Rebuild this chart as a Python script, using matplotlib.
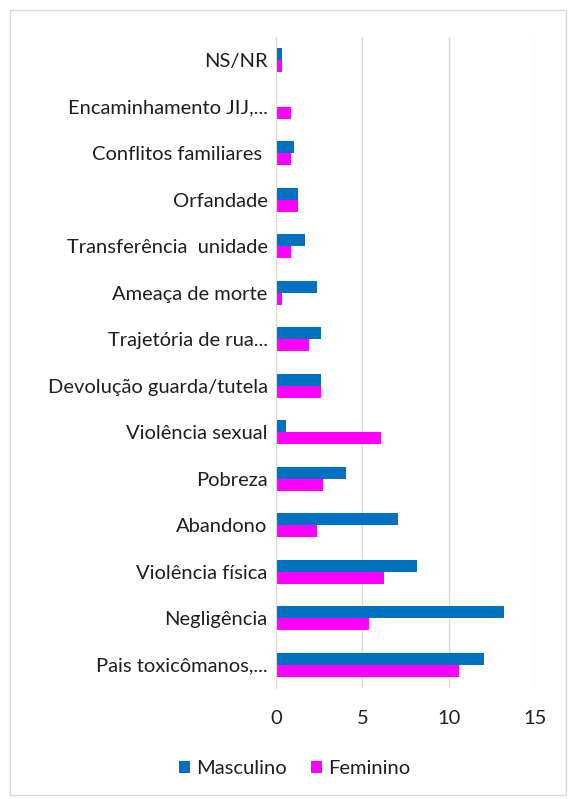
import matplotlib.pyplot as plt
import numpy as np
from matplotlib.patches import Rectangle

categorias = ["NS/NR", "Encaminhamento JIJ,...", "Conflitos familiares ", "Orfandade",
              "Transferência  unidade", "Ameaça de morte", "Trajetória de rua...",
              "Devolução guarda/tutela", "Violência sexual", "Pobreza", "Abandono",
              "Violência física", "Negligência", "Pais toxicômanos,..."]
masculino = [0.36, 0.0, 1.04, 1.25, 1.68, 2.37, 2.58, 2.58, 0.56, 4.05, 7.05, 8.17, 13.18, 12.06]
feminino = [0.36, 0.85, 0.85, 1.25, 0.85, 0.36, 1.89, 2.58, 6.07, 2.73, 2.39, 6.28, 5.38, 10.6]
xticks = [0, 5, 10, 15]

plt.rcParams['font.family'] = ['Lato', 'DejaVu Sans']

fig = plt.figure(figsize=(5.72, 7.99), dpi=100)
ax = fig.add_axes([276/572, 1-688/799, (535-276)/572, (688-37)/799])

y = np.arange(len(categorias))
h = 0.26
ax.barh(y - h/2, masculino, height=h, color="#0070C0", label="Masculino")
ax.barh(y + h/2, feminino, height=h, color="#FF00FF", label="Feminino")

ax.set_ylim(len(categorias) - 0.5, -0.5)
ax.set_xlim(0, 15)
ax.set_xticks(xticks)
ax.set_yticks(y)
ax.set_yticklabels(categorias, fontsize=14.5, color="#1F1F1F")
ax.tick_params(axis='x', labelsize=14.5, colors="#1F1F1F", length=0, pad=16)
ax.tick_params(axis='y', length=0, pad=6)
ax.xaxis.grid(True, color="#D9D9D9", linewidth=1)
ax.set_axisbelow(True)
for s in ["top", "right", "bottom"]:
    ax.spines[s].set_visible(False)
ax.spines["left"].set_color("#D9D9D9")

fig.legend(loc="center", bbox_to_anchor=(295/572, 1-769/799), ncol=2, frameon=False,
           fontsize=14.5, handlelength=0.55, handleheight=0.55, handletextpad=0.3,
           columnspacing=1.2, labelcolor="#1F1F1F")

fig.patches.append(Rectangle((10/572, 1-795/799), 556/572, 785/799, transform=fig.transFigure,
                             fill=False, edgecolor="#D9D9D9", linewidth=1))

fig.savefig("out.png", dpi=100)
